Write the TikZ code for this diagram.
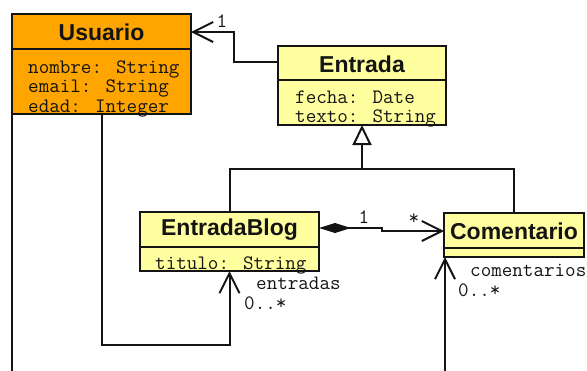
\documentclass[tikz,border=0pt]{standalone}
\usepackage{fontspec}
\setmainfont{Liberation Sans}
\usetikzlibrary{arrows.meta,calc}
\definecolor{umlorange}{RGB}{255,165,0}
\definecolor{umlyellow}{RGB}{255,255,160}
\definecolor{umlink}{RGB}{20,20,20}

\begin{document}
\begin{tikzpicture}[x=1pt,y=-1pt,
  classbox/.style={draw=umlink, line width=2.4pt, inner sep=0pt, outer sep=0pt, rectangle},
  divider/.style={draw=umlink, line width=2.4pt},
  classtitle/.style={font=\fontsize{23}{23}\selectfont\bfseries, inner sep=0pt, text=umlink},
  attr/.style={font=\ttfamily\fontsize{20.5}{21}\selectfont, inner sep=0pt, anchor=base west, text=umlink},
  lbl/.style={font=\ttfamily\fontsize{20.5}{21}\selectfont, inner sep=0pt, text=umlink},
  conn/.style={draw=umlink, line width=2pt},
  openhead/.style={-{Straight Barb[length=20pt,width=20pt,line width=2pt]}},
  genhead/.style={-{Triangle[open,length=20pt,width=19pt,line width=2pt,fill=white]}},
  comphead/.style={{Diamond[length=32pt,width=10pt]}-{Straight Barb[length=20pt,width=20pt,line width=2pt]}}
]
\useasboundingbox (0,0) rectangle (587,370);

% ---------- class boxes ----------
\node[classbox, fill=umlorange, minimum width=179pt, minimum height=100pt] (usuario) at (101.5,64) {};
\node[classbox, fill=umlyellow, minimum width=168pt, minimum height=79pt] (entrada) at (362,85.5) {};
\node[classbox, fill=umlyellow, minimum width=179pt, minimum height=59pt] (blog) at (229.5,241.5) {};
\node[classbox, fill=umlyellow, minimum width=140pt, minimum height=44pt] (comentario) at (514,235) {};

% compartment dividers
\draw[divider] (usuario.west |- 0,49) -- (usuario.east |- 0,49);
\draw[divider] (entrada.west |- 0,80) -- (entrada.east |- 0,80);
\draw[divider] (blog.west |- 0,247) -- (blog.east |- 0,247);
\draw[divider] (comentario.west |- 0,248) -- (comentario.east |- 0,248);

% class names
\node[classtitle] (usuarioT) at (101.5,32.5) {Usuario};
\node[classtitle] (entradaT) at (362,64) {Entrada};
\node[classtitle] (blogT) at (229.5,230) {EntradaBlog};
\node[classtitle] (comentarioT) at (514,231) {Comentario};

% attributes
\node[attr] (usuarioA1) at (28,73) {nombre: String};
\node[attr] (usuarioA2) at (28,92.5) {email: String};
\node[attr] (usuarioA3) at (28,112) {edad: Integer};
\node[attr] (entradaA1) at (295,103) {fecha: Date};
\node[attr] (entradaA2) at (295,122) {texto: String};
\node[attr] (blogA1) at (155,269) {titulo: String};

% ---------- connectors ----------
% Entrada -> Usuario (autor)
\coordinate (autorBend) at (234,62);
\draw[conn, openhead] (entrada.west |- autorBend) -- (autorBend) -- (autorBend |- 0,32) -- (usuario.east |- 0,32);

% Usuario -> EntradaBlog (entradas)
\coordinate (entradasLow) at (101.5,345);
\draw[conn, openhead] (usuario.south) -- (entradasLow) -- (blog.south |- entradasLow) -- (blog.south);

% line leaving Usuario downwards
\coordinate (usuarioOut) at (12,372);
\draw[conn] (usuario.south west) -- (usuarioOut);

% generalisation EntradaBlog, Comentario -> Entrada
\coordinate (genJoin) at (362,169);
\draw[conn] (blog.north) -- (blog.north |- genJoin) -- (comentario.north |- genJoin) -- (comentario.north);
\draw[conn, genhead] (genJoin) -- (entrada.south);

% composition EntradaBlog -> Comentario
\coordinate (compStep) at (382,228);
\draw[conn, comphead] (blog.east |- compStep) -- (compStep) -- (compStep |- 0,231) -- (comentario.west |- 0,231);

% Comentario reached from below (comentarios)
\coordinate (comentOut) at (445,372);
\draw[conn, openhead] (comentOut) -- (comentOut |- comentario.south);

% ---------- role names and multiplicities ----------
\node[lbl] (autorMult) at (222,21) {1};
\node[lbl] (compMultA) at (364,217) {1};
\node[lbl] (compMultB) at (414,219) {*};
\node[lbl, anchor=west] (entradasRole) at (256,283) {entradas};
\node[lbl, anchor=west] (entradasMult) at (244,303) {0..*};
\node[lbl, anchor=west] (comentRole) at (470,270) {comentarios};
\node[lbl, anchor=west] (comentMult) at (458,290) {0..*};
\end{tikzpicture}
\end{document}
